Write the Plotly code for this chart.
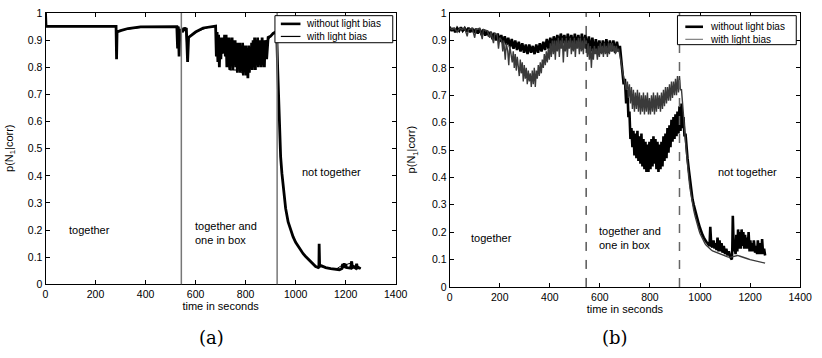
import plotly.graph_objects as go

# ---------------- data: panel (a) ----------------
a_thick_x = [0, 2, 100, 200, 282, 284, 286, 300, 330, 380, 450, 525, 528, 531, 534, 537, 542, 548, 553, 558, 563, 568, 572, 580, 600, 630, 660, 680,
             683, 686, 689, 692, 695, 698, 701, 704, 707, 710, 713, 716, 719, 722, 725, 728, 731, 734, 737, 740, 743, 746,
             749, 752, 755, 758, 761, 764, 767, 770, 773, 776, 779, 782, 785, 788, 791, 794, 797, 800, 803, 806, 809, 812,
             815, 818, 821, 824, 827, 830, 833, 836, 839, 842, 845, 848, 851, 854, 857, 860, 863, 866, 869, 872, 875, 878,
             884, 890, 900, 910, 920, 924,
             928, 932, 936, 940, 945, 950, 955, 960, 970, 980, 990, 1000, 1010, 1020, 1030, 1040, 1050, 1060, 1070, 1080, 1090,
             1093, 1094, 1096, 1100, 1110, 1120, 1140, 1160, 1175, 1185, 1188, 1191, 1194, 1197, 1200, 1203, 1210, 1220, 1224,
             1227, 1232, 1240, 1244, 1247, 1252, 1258, 1260]
a_thick_y = [1.0, 0.951, 0.951, 0.951, 0.951, 0.83, 0.93, 0.935, 0.943, 0.949, 0.95, 0.95, 0.87, 0.95, 0.84, 0.93, 0.94, 0.93, 0.945, 0.94, 0.945, 0.82, 0.91, 0.915, 0.93, 0.945, 0.95, 0.952,
             0.84, 0.93, 0.82, 0.92, 0.80, 0.91, 0.83, 0.91, 0.85, 0.91, 0.86, 0.92, 0.84, 0.92, 0.80, 0.91, 0.85, 0.91, 0.79, 0.90, 0.84, 0.91,
             0.79, 0.90, 0.83, 0.90, 0.80, 0.89, 0.78, 0.89, 0.84, 0.89, 0.78, 0.88, 0.79, 0.89, 0.77, 0.88, 0.80, 0.88, 0.77, 0.87, 0.76, 0.88,
             0.78, 0.87, 0.80, 0.89, 0.79, 0.90, 0.80, 0.91, 0.79, 0.90, 0.81, 0.91, 0.80, 0.90, 0.81, 0.90, 0.80, 0.91, 0.82, 0.90, 0.80, 0.90,
             0.83, 0.91, 0.915, 0.925, 0.93, 0.935,
             0.80, 0.66, 0.55, 0.47, 0.41, 0.36, 0.31, 0.28, 0.23, 0.20, 0.175, 0.155, 0.14, 0.125, 0.113, 0.103, 0.094, 0.085, 0.075, 0.066, 0.062,
             0.06, 0.15, 0.066, 0.07, 0.066, 0.062, 0.058, 0.055, 0.054, 0.058, 0.075, 0.06, 0.078, 0.06, 0.075, 0.062, 0.062, 0.06, 0.085,
             0.062, 0.065, 0.06, 0.076, 0.06, 0.062, 0.06, 0.058]

a_thin_x = [0, 2, 150, 282, 284, 286, 320, 400, 525, 528, 531, 534, 537, 545, 560, 568, 572, 600, 650, 680,
            688, 694, 700, 710, 720, 736, 748, 760, 772, 784, 796, 808, 820, 832, 844, 856, 868, 878, 890, 910, 924,
            928, 932, 936, 940, 945, 950, 955, 960, 970, 980, 990, 1000, 1010, 1020, 1030, 1040, 1050, 1060, 1070, 1080, 1090,
            1093, 1094, 1096, 1120, 1160, 1188, 1191, 1200, 1224, 1227, 1244, 1247, 1260]
a_thin_y = [1.0, 0.95, 0.95, 0.95, 0.835, 0.93, 0.94, 0.949, 0.95, 0.88, 0.95, 0.85, 0.93, 0.94, 0.945, 0.83, 0.91, 0.93, 0.947, 0.95,
            0.83, 0.81, 0.84, 0.86, 0.85, 0.79, 0.79, 0.79, 0.79, 0.78, 0.79, 0.77, 0.80, 0.81, 0.83, 0.81, 0.81, 0.83, 0.90, 0.928, 0.93,
            0.80, 0.66, 0.55, 0.47, 0.41, 0.36, 0.31, 0.28, 0.23, 0.20, 0.175, 0.155, 0.14, 0.125, 0.113, 0.103, 0.094, 0.085, 0.075, 0.066, 0.062,
            0.06, 0.145, 0.066, 0.062, 0.055, 0.072, 0.06, 0.072, 0.08, 0.061, 0.073, 0.06, 0.058]

# ---------------- data: panel (b) ----------------
b_thick_x = [0, 8, 15, 22, 30, 38, 45, 52, 60, 68, 75, 82, 90, 98, 105, 112, 120, 128, 135, 142, 150, 157, 164, 171, 178, 185, 192, 199,
             206, 213, 220, 227, 234, 241, 248, 255, 262, 269, 276, 283, 290, 297, 304, 311, 318, 325, 332, 339, 346, 353, 360, 367, 374,
             381, 388, 395, 402, 409, 416, 423, 430, 437, 444, 451, 458, 465, 472, 479, 486, 493, 500, 507, 514, 521, 528, 535, 542, 549,
             556, 563, 570, 577, 584, 591, 598, 605, 612, 619, 626, 633, 640, 647, 654, 661, 668, 675, 680, 685, 690, 695, 700, 705, 710,
             714, 718, 722, 726, 730, 734, 738, 742, 746, 750, 754, 758, 762, 766, 770, 774, 778, 782, 786, 790, 794, 798, 802, 806, 810,
             814, 818, 822, 826, 830, 834, 838, 842, 846, 850, 854, 858, 862, 866, 870, 874, 878, 882, 886, 890, 894, 898, 902, 906, 910,
             914, 918, 922, 926, 930, 934, 938, 942, 946, 950, 955, 960, 965, 970, 975, 980, 985, 990, 995, 1000, 1005, 1010, 1015, 1020,
             1025, 1030, 1035, 1038, 1041, 1045, 1050, 1054, 1058, 1062, 1066, 1070, 1074, 1078, 1082, 1086, 1090, 1095, 1100, 1105, 1110,
             1115, 1120, 1124, 1127, 1129, 1131, 1135, 1138, 1142, 1145, 1149, 1152, 1156, 1159, 1163, 1166, 1170, 1173, 1177, 1180, 1184,
             1187, 1191, 1194, 1198, 1201, 1205, 1208, 1212, 1215, 1220, 1224, 1228, 1231, 1236, 1240, 1245, 1248, 1252, 1256, 1260]
b_thick_y = [0.95, 0.935, 0.945, 0.93, 0.945, 0.935, 0.948, 0.935, 0.945, 0.932, 0.946, 0.93, 0.944, 0.928, 0.943, 0.925, 0.942, 0.92,
             0.94, 0.918, 0.935, 0.915, 0.932, 0.905, 0.928, 0.90, 0.925, 0.895, 0.92, 0.89, 0.915, 0.885, 0.91, 0.875, 0.905, 0.87, 0.90,
             0.865, 0.895, 0.86, 0.89, 0.855, 0.885, 0.85, 0.885, 0.855, 0.88, 0.85, 0.885, 0.855, 0.89, 0.86, 0.895, 0.865, 0.905, 0.87,
             0.91, 0.875, 0.915, 0.88, 0.92, 0.885, 0.925, 0.89, 0.92, 0.88, 0.925, 0.885, 0.92, 0.875, 0.925, 0.88, 0.92, 0.87, 0.925,
             0.875, 0.92, 0.87, 0.915, 0.86, 0.91, 0.855, 0.905, 0.86, 0.90, 0.855, 0.90, 0.86, 0.905, 0.855, 0.90, 0.86, 0.90, 0.855,
             0.895, 0.86, 0.88, 0.83, 0.80, 0.74, 0.76, 0.67, 0.72, 0.62, 0.64, 0.54, 0.58, 0.51, 0.57, 0.48, 0.56, 0.47, 0.57, 0.46, 0.55,
             0.45, 0.56, 0.44, 0.54, 0.43, 0.53, 0.42, 0.52, 0.42, 0.53, 0.43, 0.54, 0.44, 0.55, 0.45, 0.54, 0.43, 0.53, 0.42, 0.52, 0.43,
             0.53, 0.44, 0.55, 0.46, 0.56, 0.47, 0.58, 0.49, 0.59, 0.51, 0.61, 0.53, 0.62, 0.54, 0.63, 0.55, 0.64, 0.56, 0.66, 0.57, 0.67,
             0.58, 0.62, 0.55, 0.56, 0.49, 0.47, 0.43, 0.39, 0.35, 0.32, 0.30, 0.28, 0.26, 0.245, 0.23, 0.215, 0.20, 0.19, 0.18, 0.17, 0.165,
             0.16, 0.155, 0.15, 0.22, 0.15, 0.145, 0.17, 0.14, 0.16, 0.135, 0.18, 0.13, 0.17, 0.13, 0.16, 0.125, 0.15, 0.12, 0.14, 0.115,
             0.13, 0.11, 0.105, 0.10, 0.14, 0.26, 0.13, 0.15, 0.12, 0.19, 0.13, 0.21, 0.14, 0.20, 0.14, 0.21, 0.15, 0.20, 0.14, 0.19, 0.14,
             0.18, 0.14, 0.20, 0.13, 0.17, 0.13, 0.16, 0.13, 0.17, 0.125, 0.15, 0.12, 0.17, 0.12, 0.16, 0.12, 0.175, 0.12, 0.14, 0.115, 0.115]

b_thin_x = [0, 10, 20, 30, 40, 50, 60, 70, 75, 90, 100, 105, 120, 130, 135, 150, 160, 165, 175, 180, 190, 195, 200, 208, 212, 216, 222,
            226, 232, 236, 240, 246, 250, 254, 258, 262, 266, 270, 274, 278, 282, 286, 290, 294, 298, 302, 306, 310, 314, 318, 322, 326,
            330, 334, 338, 342, 346, 350, 354, 358, 362, 366, 370, 374, 378, 382, 386, 390, 394, 398, 402, 406, 410, 414, 418, 422, 426,
            430, 434, 438, 442, 446, 450, 454, 458, 462, 466, 470, 474, 478, 482, 486, 490, 494, 498, 502, 506, 510, 514, 518, 522, 526,
            530, 534, 538, 542, 546, 550, 554, 558, 562, 566, 570, 574, 578, 582, 586, 590, 594, 598, 602, 606, 610, 614, 618, 622, 626,
            630, 634, 638, 642, 646, 650, 654, 658, 662, 666, 670, 675, 680, 685, 690, 695, 700, 705, 710, 714, 718, 722, 726, 730, 734,
            738, 742, 746, 750, 754, 758, 762, 766, 770, 774, 778, 782, 786, 790, 794, 798, 802, 806, 810, 814, 818, 822, 826, 830, 834,
            838, 842, 846, 850, 854, 858, 862, 866, 870, 874, 878, 882, 886, 890, 894, 898, 902, 906, 910, 914, 918, 922, 926, 930, 934,
            938, 942, 946, 950, 955, 960, 965, 970, 975, 980, 985, 990, 995, 1000, 1005, 1010, 1015, 1020, 1025, 1030, 1035, 1040, 1045,
            1050, 1060, 1070, 1080, 1090, 1100, 1110, 1120, 1130, 1140, 1150, 1160, 1170, 1180, 1190, 1200, 1210, 1220, 1230, 1240, 1250, 1260]
b_thin_y = [0.945, 0.94, 0.945, 0.93, 0.945, 0.94, 0.945, 0.915, 0.94, 0.945, 0.91, 0.94, 0.945, 0.905, 0.94, 0.935, 0.91, 0.93, 0.89,
            0.925, 0.92, 0.87, 0.91, 0.90, 0.86, 0.90, 0.83, 0.89, 0.86, 0.81, 0.88, 0.84, 0.82, 0.86, 0.80, 0.85, 0.79, 0.84, 0.81, 0.77,
            0.83, 0.78, 0.82, 0.75, 0.81, 0.76, 0.80, 0.74, 0.79, 0.75, 0.78, 0.73, 0.79, 0.74, 0.80, 0.73, 0.79, 0.76, 0.81, 0.77, 0.82,
            0.78, 0.83, 0.80, 0.85, 0.81, 0.86, 0.82, 0.87, 0.83, 0.89, 0.84, 0.90, 0.85, 0.90, 0.83, 0.90, 0.86, 0.91, 0.84, 0.90, 0.87,
            0.91, 0.82, 0.90, 0.86, 0.91, 0.84, 0.90, 0.87, 0.91, 0.85, 0.90, 0.86, 0.91, 0.84, 0.90, 0.87, 0.91, 0.85, 0.91, 0.86, 0.90,
            0.85, 0.91, 0.87, 0.90, 0.84, 0.89, 0.83, 0.88, 0.80, 0.87, 0.83, 0.88, 0.85, 0.87, 0.83, 0.88, 0.84, 0.89, 0.85, 0.88, 0.84,
            0.89, 0.85, 0.88, 0.84, 0.89, 0.85, 0.89, 0.86, 0.89, 0.86, 0.88, 0.85, 0.88, 0.86, 0.87, 0.85, 0.82, 0.79, 0.77, 0.75, 0.72,
            0.75, 0.69, 0.74, 0.67, 0.73, 0.65, 0.72, 0.64, 0.71, 0.65, 0.72, 0.64, 0.71, 0.63, 0.70, 0.64, 0.71, 0.63, 0.70, 0.64, 0.71,
            0.63, 0.69, 0.63, 0.70, 0.64, 0.71, 0.63, 0.70, 0.64, 0.71, 0.65, 0.70, 0.64, 0.71, 0.65, 0.72, 0.66, 0.73, 0.67, 0.73, 0.68,
            0.74, 0.68, 0.75, 0.69, 0.75, 0.70, 0.76, 0.70, 0.77, 0.71, 0.77, 0.72, 0.72, 0.66, 0.62, 0.58, 0.53, 0.48, 0.44, 0.40, 0.36,
            0.33, 0.30, 0.28, 0.26, 0.24, 0.225, 0.21, 0.195, 0.185, 0.175, 0.165, 0.158, 0.152, 0.147, 0.142, 0.14, 0.135, 0.132, 0.128,
            0.125, 0.12, 0.117, 0.114, 0.11, 0.108, 0.11, 0.113, 0.115, 0.112, 0.108, 0.105, 0.103, 0.10, 0.098, 0.096, 0.094, 0.092, 0.089, 0.087]

# phase boundaries (seconds)
bounds_a = [543, 926]
bounds_b = [545, 918]

x_ticks = [0, 200, 400, 600, 800, 1000, 1200, 1400]
y_ticks = [0, 0.1, 0.2, 0.3, 0.4, 0.5, 0.6, 0.7, 0.8, 0.9, 1]
y_tick_text = ["0", "0.1", "0.2", "0.3", "0.4", "0.5", "0.6", "0.7", "0.8", "0.9", "1"]

name_thick = "without light bias"
name_thin = "with light bias"
x_title = "time in seconds"
y_title = "p(N<sub>1</sub>|corr)"
thin_b_color = "#3a3a3a"

FONT = "Liberation Sans, Arial, sans-serif"
W, H = 822, 358


def px(xp):
    return xp / W


def py(yp):
    return 1 - yp / H


fig = go.Figure()

fig.add_trace(go.Scatter(x=a_thin_x, y=a_thin_y, mode="lines", name=name_thin,
                         line=dict(color="black", width=1), xaxis="x", yaxis="y"))
fig.add_trace(go.Scatter(x=a_thick_x, y=a_thick_y, mode="lines", name=name_thick,
                         line=dict(color="black", width=2.8), xaxis="x", yaxis="y"))
fig.add_trace(go.Scatter(x=b_thick_x, y=b_thick_y, mode="lines", name=name_thick,
                         line=dict(color="black", width=2.6), xaxis="x2", yaxis="y2"))
fig.add_trace(go.Scatter(x=b_thin_x, y=b_thin_y, mode="lines", name=name_thin,
                         line=dict(color=thin_b_color, width=1.4), xaxis="x2", yaxis="y2"))

axis_common = dict(showline=True, mirror="ticks", linecolor="black", linewidth=1,
                   ticks="inside", ticklen=4, tickcolor="black", showgrid=False, zeroline=False,
                   tickfont=dict(family=FONT, size=10.5, color="black"))

fig.update_layout(
    width=W, height=H,
    margin=dict(l=0, r=0, t=0, b=0),
    paper_bgcolor="white", plot_bgcolor="white",
    font=dict(family=FONT, color="black"),
    showlegend=False,
    xaxis=dict(domain=[0.0527, 0.4866], range=[0, 1400], tickvals=x_ticks, anchor="y",
               title=dict(text=x_title, font=dict(size=11), standoff=2), **axis_common),
    yaxis=dict(domain=[0.1955, 0.9796], range=[0, 1], tickvals=y_ticks, ticktext=y_tick_text, anchor="x",
               **axis_common),
    xaxis2=dict(domain=[0.5535, 0.9878], range=[0, 1400], tickvals=x_ticks, anchor="y2",
                title=dict(text=x_title, font=dict(size=11), standoff=2), **axis_common),
    yaxis2=dict(domain=[0.188, 0.9796], range=[0, 1], tickvals=y_ticks, ticktext=y_tick_text, anchor="x2",
                **axis_common),
)

# y-axis titles placed where the reference has them
for xc, yc in [(7, 147), (417, 149)]:
    fig.add_annotation(text=y_title, x=px(xc), y=py(yc), xref="paper", yref="paper", textangle=-90,
                       xanchor="center", yanchor="middle", showarrow=False,
                       font=dict(family=FONT, size=11, color="black"))

for b in bounds_a:
    fig.add_shape(type="line", xref="x", yref="y domain", x0=b, x1=b, y0=0, y1=1,
                  line=dict(color="#777777", width=1.5), layer="above")
fig.add_shape(type="line", xref="x2", yref="y2 domain", x0=bounds_b[0], x1=bounds_b[0], y0=0, y1=1,
              line=dict(color="black", width=1, dash="dash"), layer="above")
fig.add_shape(type="line", xref="x2", yref="y2 domain", x0=bounds_b[1], x1=bounds_b[1], y0=0, y1=1,
              line=dict(color="#666666", width=1.5, dash="dash"), layer="above")

legend_specs = [
    # box x0, x1, y0, y1, line x0, x1, row1 y, row2 y, text x, thin colour
    (277, 397, 10, 38, 283, 303, 18.5, 31.5, 307, "black"),
    (687, 808, 10, 40, 695, 713, 21.5, 34.5, 718, "#808080"),
]
for bx0, bx1, by0, by1, lx0, lx1, r1, r2, tx, thin_col in legend_specs:
    fig.add_shape(type="rect", xref="paper", yref="paper", x0=px(bx0), x1=px(bx1), y0=py(by1), y1=py(by0),
                  line=dict(color="black", width=1), fillcolor="white", layer="above")
    fig.add_shape(type="line", xref="paper", yref="paper", x0=px(lx0), x1=px(lx1), y0=py(r1), y1=py(r1),
                  line=dict(color="black", width=2.6), layer="above")
    fig.add_shape(type="line", xref="paper", yref="paper", x0=px(lx0), x1=px(lx1), y0=py(r2), y1=py(r2),
                  line=dict(color=thin_col, width=1.2), layer="above")
    for txt, ry in [(name_thick, r1), (name_thin, r2)]:
        fig.add_annotation(text=txt, x=px(tx), y=py(ry), xref="paper", yref="paper", xanchor="left",
                           yanchor="middle", showarrow=False, font=dict(family=FONT, size=10, color="black"))

ann_font = dict(family=FONT, size=11, color="black")
labels_a = [("together", 85, 0.2), ("together and<br>one in box", 589, 0.19), ("not together", 1018, 0.414)]
labels_b = [("together", 78, 0.18), ("together and<br>one in box", 588, 0.177), ("not together", 1063, 0.42)]
for t, x, y in labels_a:
    fig.add_annotation(text=t, x=x, y=y, xref="x", yref="y", xanchor="left", yanchor="middle",
                       showarrow=False, align="left", font=ann_font)
for t, x, y in labels_b:
    fig.add_annotation(text=t, x=x, y=y, xref="x2", yref="y2", xanchor="left", yanchor="middle",
                       showarrow=False, align="left", font=ann_font)

serif = dict(family="DejaVu Serif, Liberation Serif, serif", size=18, color="black")
fig.add_annotation(text="(a)", x=px(212), y=py(343), xref="paper", yref="paper",
                   showarrow=False, font=serif, xanchor="center", yanchor="middle")
fig.add_annotation(text="(b)", x=px(623), y=py(343), xref="paper", yref="paper",
                   showarrow=False, font=serif, xanchor="center", yanchor="middle")

# the page's default body margin would offset the 822x358 figure inside the 822x358 window
fig.write_html("out.html", config={"displayModeBar": False},
               post_script="document.body.style.margin='0';document.body.style.overflow='hidden';")
